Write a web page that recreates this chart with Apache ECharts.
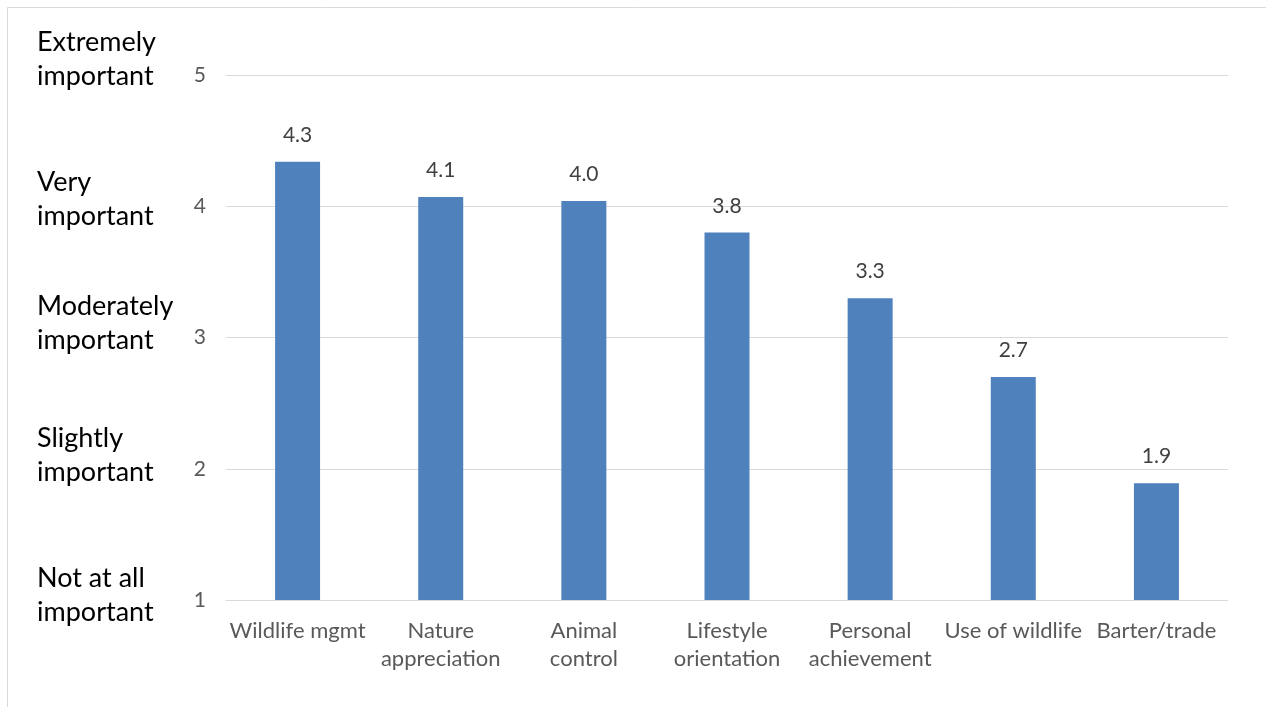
<!DOCTYPE html>
<html><head><meta charset="utf-8">
<script src="https://cdn.jsdelivr.net/npm/echarts@6/dist/echarts.min.js"></script>
<style>html,body{margin:0;padding:0;background:#fff}#c{width:1266px;height:707px}</style>
</head><body><div id="c"></div>
<script>
const categories = ['Wildlife mgmt', 'Nature\nappreciation', 'Animal\ncontrol', 'Lifestyle\norientation', 'Personal\nachievement', 'Use of wildlife', 'Barter/trade'];
const values = [4.34, 4.07, 4.04, 3.80, 3.30, 2.70, 1.89];
const scaleLabels = {1: 'Not at all\nimportant', 2: 'Slightly\nimportant', 3: 'Moderately\nimportant', 4: 'Very\nimportant', 5: 'Extremely\nimportant'};
const yMin = 1, yMax = 5, yStep = 1;

const chart = echarts.init(document.getElementById('c'));
const FONT = 'Lato';
const labelRich = {
  t: {color: '#000', fontFamily: FONT, fontSize: 27, lineHeight: 34, align: 'left'},
  g1: {lineHeight: 10, fontSize: 1}, g2: {lineHeight: 26, fontSize: 1}, g3: {lineHeight: 28, fontSize: 1},
  g4: {lineHeight: 14, fontSize: 1}, g5: {lineHeight: 32, fontSize: 1}
};
chart.setOption({
  animation: false,
  backgroundColor: '#fff',
  graphic: [{type: 'rect', shape: {x: 7.5, y: 7.5, width: 1400, height: 900}, style: {fill: 'none', stroke: '#d9d9d9', lineWidth: 1}, silent: true}],
  grid: {left: 226, right: 38, top: 75, bottom: 107},
  xAxis: {
    type: 'category', data: categories,
    axisLine: {show: true, lineStyle: {color: '#d9d9d9'}},
    axisTick: {show: false},
    axisLabel: {interval: 0, color: '#595959', fontFamily: FONT, fontSize: 22, lineHeight: 28, margin: 17}
  },
  yAxis: [{
    type: 'value', min: yMin, max: yMax, interval: yStep,
    axisLine: {show: false}, axisTick: {show: false},
    splitLine: {lineStyle: {color: '#d9d9d9', width: 1}},
    axisLabel: {color: '#595959', fontFamily: FONT, fontSize: 21, margin: 20}
  }, {
    type: 'value', position: 'left', min: yMin, max: yMax, interval: yStep,
    axisLine: {show: false}, axisTick: {show: false}, splitLine: {show: false},
    axisLabel: {
      align: 'left', margin: 189, rich: labelRich,
      formatter: v => scaleLabels[v] ? scaleLabels[v].split('\n').map(s => '{t|' + s + '}').join('\n') + '\n{g' + v + '| }' : ''
    }
  }],
  series: [{
    type: 'bar', data: values, barWidth: 45, yAxisIndex: 0,
    itemStyle: {color: '#4f81bd'},
    label: {show: true, position: 'top', distance: 16, color: '#404040', fontFamily: FONT, fontSize: 21,
      formatter: p => p.value.toFixed(1)}
  }]
});
</script></body></html>
